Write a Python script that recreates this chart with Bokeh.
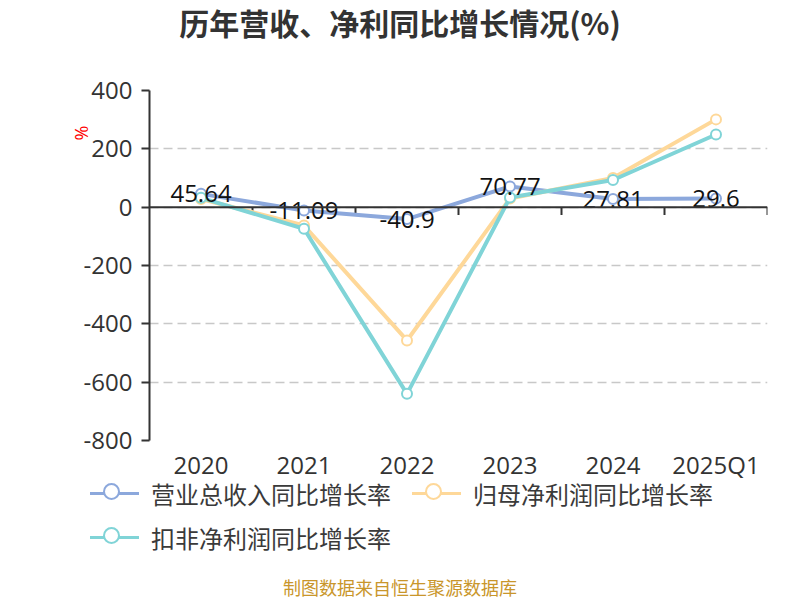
from bokeh.plotting import figure
from bokeh.models import (Range1d, FactorRange, Span, Title, Div,
                          ColumnDataSource, FixedTicker)
from bokeh.layouts import column
from bokeh.transform import dodge
from bokeh.core.properties import value
from bokeh.embed import file_html
from bokeh.resources import INLINE

categories = ["2020", "2021", "2022", "2023", "2024", "2025Q1"]
revenue_growth = [45.64, -11.09, -40.9, 70.77, 27.81, 29.6]
net_profit_growth = [28, -63, -457, 30, 100, 301]
deducted_profit_growth = [32, -74, -640, 33, 93, 249]
revenue_labels = ["45.64", "-11.09", "-40.9", "70.77", "27.81", "29.6"]
y_ticks = [-800, -600, -400, -200, 0, 200, 400]

series_names = ["营业总收入同比增长率", "归母净利润同比增长率", "扣非净利润同比增长率"]
colors = ["#8ca8dc", "#fed899", "#80d4d7"]
title_text = "历年营收、净利同比增长情况(%)"
footer_text = "制图数据来自恒生聚源数据库"

src = ColumnDataSource(dict(x=categories, rev=revenue_growth, net=net_profit_growth,
                            ded=deducted_profit_growth, lab=revenue_labels,
                            y0=[0] * len(categories), y1=[-27] * len(categories)))

title_div = Div(text=f'<div style="width:800px;text-align:center;line-height:44px;'
                     f'font-family:\'Noto Sans CJK SC\';font-weight:bold;font-size:30px;'
                     f'color:#333333;">{title_text}</div>',
                width=800, height=73, margin=(0, 0, 0, 0))

p = figure(width=800, height=410, x_range=FactorRange(*categories),
           y_range=Range1d(-800, 400), output_backend="svg", toolbar_location=None,
           min_border_left=149, min_border_right=33, min_border_top=17, min_border_bottom=43,
           margin=(0, 0, 0, 0))
p.outline_line_color = None
p.background_fill_color = "white"

# axes
p.yaxis.ticker = FixedTicker(ticks=y_ticks)
p.yaxis.major_label_overrides = {t: str(t) for t in y_ticks}
p.yaxis.axis_line_color = "#333333"
p.yaxis.axis_line_width = 2
p.yaxis.major_tick_line_color = "#333333"
p.yaxis.major_tick_line_width = 2
p.yaxis.major_tick_in = 0
p.yaxis.major_tick_out = 8
p.yaxis.minor_tick_line_color = None
p.yaxis.major_label_standoff = 9
p.yaxis.major_label_text_font = "Open Sans"
p.yaxis.major_label_text_font_size = "24px"
p.yaxis.major_label_text_color = "#333333"

p.xaxis.axis_line_color = None
p.xaxis.major_tick_line_color = None
p.xaxis.major_label_standoff = 1
p.xaxis.major_label_text_font = "Open Sans"
p.xaxis.major_label_text_font_size = "24px"
p.xaxis.major_label_text_color = "#333333"

p.xgrid.grid_line_color = None
p.ygrid.grid_line_color = "#c8c8c8"
p.ygrid.grid_line_dash = "9 5"
p.ygrid.grid_line_width = 1.5

# zero axis line with boundary ticks
p.add_layout(Span(location=0, dimension="width", line_color="#333333", line_width=2))
p.segment(x0=dodge("x", 0.5, range=p.x_range), y0="y0",
          x1=dodge("x", 0.5, range=p.x_range), y1="y1", source=src,
          line_color="#333333", line_width=2)

for col, c in zip(["rev", "net", "ded"], colors):
    p.line("x", col, source=src, line_color=c, line_width=4)
    p.scatter("x", col, source=src, marker="circle", size=10, fill_color="white",
              line_color=c, line_width=2)

p.text("x", "rev", text="lab", source=src, text_align="center", text_baseline="middle",
       text_font=value("Open Sans"), text_font_size="24px", text_color="#111111")

pct = Title(text="%", align="right", offset=35, standoff=-25,
            text_font="Open Sans", text_font_size="18px", text_color="#ff0000",
            text_font_style="normal")
p.add_layout(pct, "left")

# legend (HTML)
def legend_item(name, color, left, top):
    return (f'<div style="position:absolute;left:{left}px;top:{top + 9}px;width:49px;height:3px;'
            f'background:{color};"></div>'
            f'<div style="position:absolute;left:{left + 13}px;top:{top}px;width:17px;height:17px;'
            f'border:2px solid {color};border-radius:50%;background:#ffffff;"></div>'
            f'<div style="position:absolute;left:{left + 61}px;top:{top - 2}px;height:25px;'
            f'line-height:25px;font-size:24px;font-family:\'Noto Sans CJK SC\';color:#3a3a3a;'
            f'white-space:nowrap;">{name}</div>')

legend_pos = [(90, 0), (412, 0), (90, 44)]
legend_html = '<div style="position:relative;width:800px;height:92px;">' + "".join(
    legend_item(n, c, x, y) for n, c, (x, y) in zip(series_names, colors, legend_pos)) + '</div>'
legend_div = Div(text=legend_html, width=800, height=92, margin=(0, 0, 0, 0))

footer_div = Div(text=f'<div style="width:800px;text-align:center;line-height:25px;'
                      f'font-family:\'Noto Sans CJK SC\';font-size:18px;'
                      f'color:#c9962b;">{footer_text}</div>',
                 width=800, height=25, margin=(0, 0, 0, 0))

layout = column(title_div, p, legend_div, footer_div, spacing=0)
open("out.html", "w").write(file_html(layout, INLINE))
